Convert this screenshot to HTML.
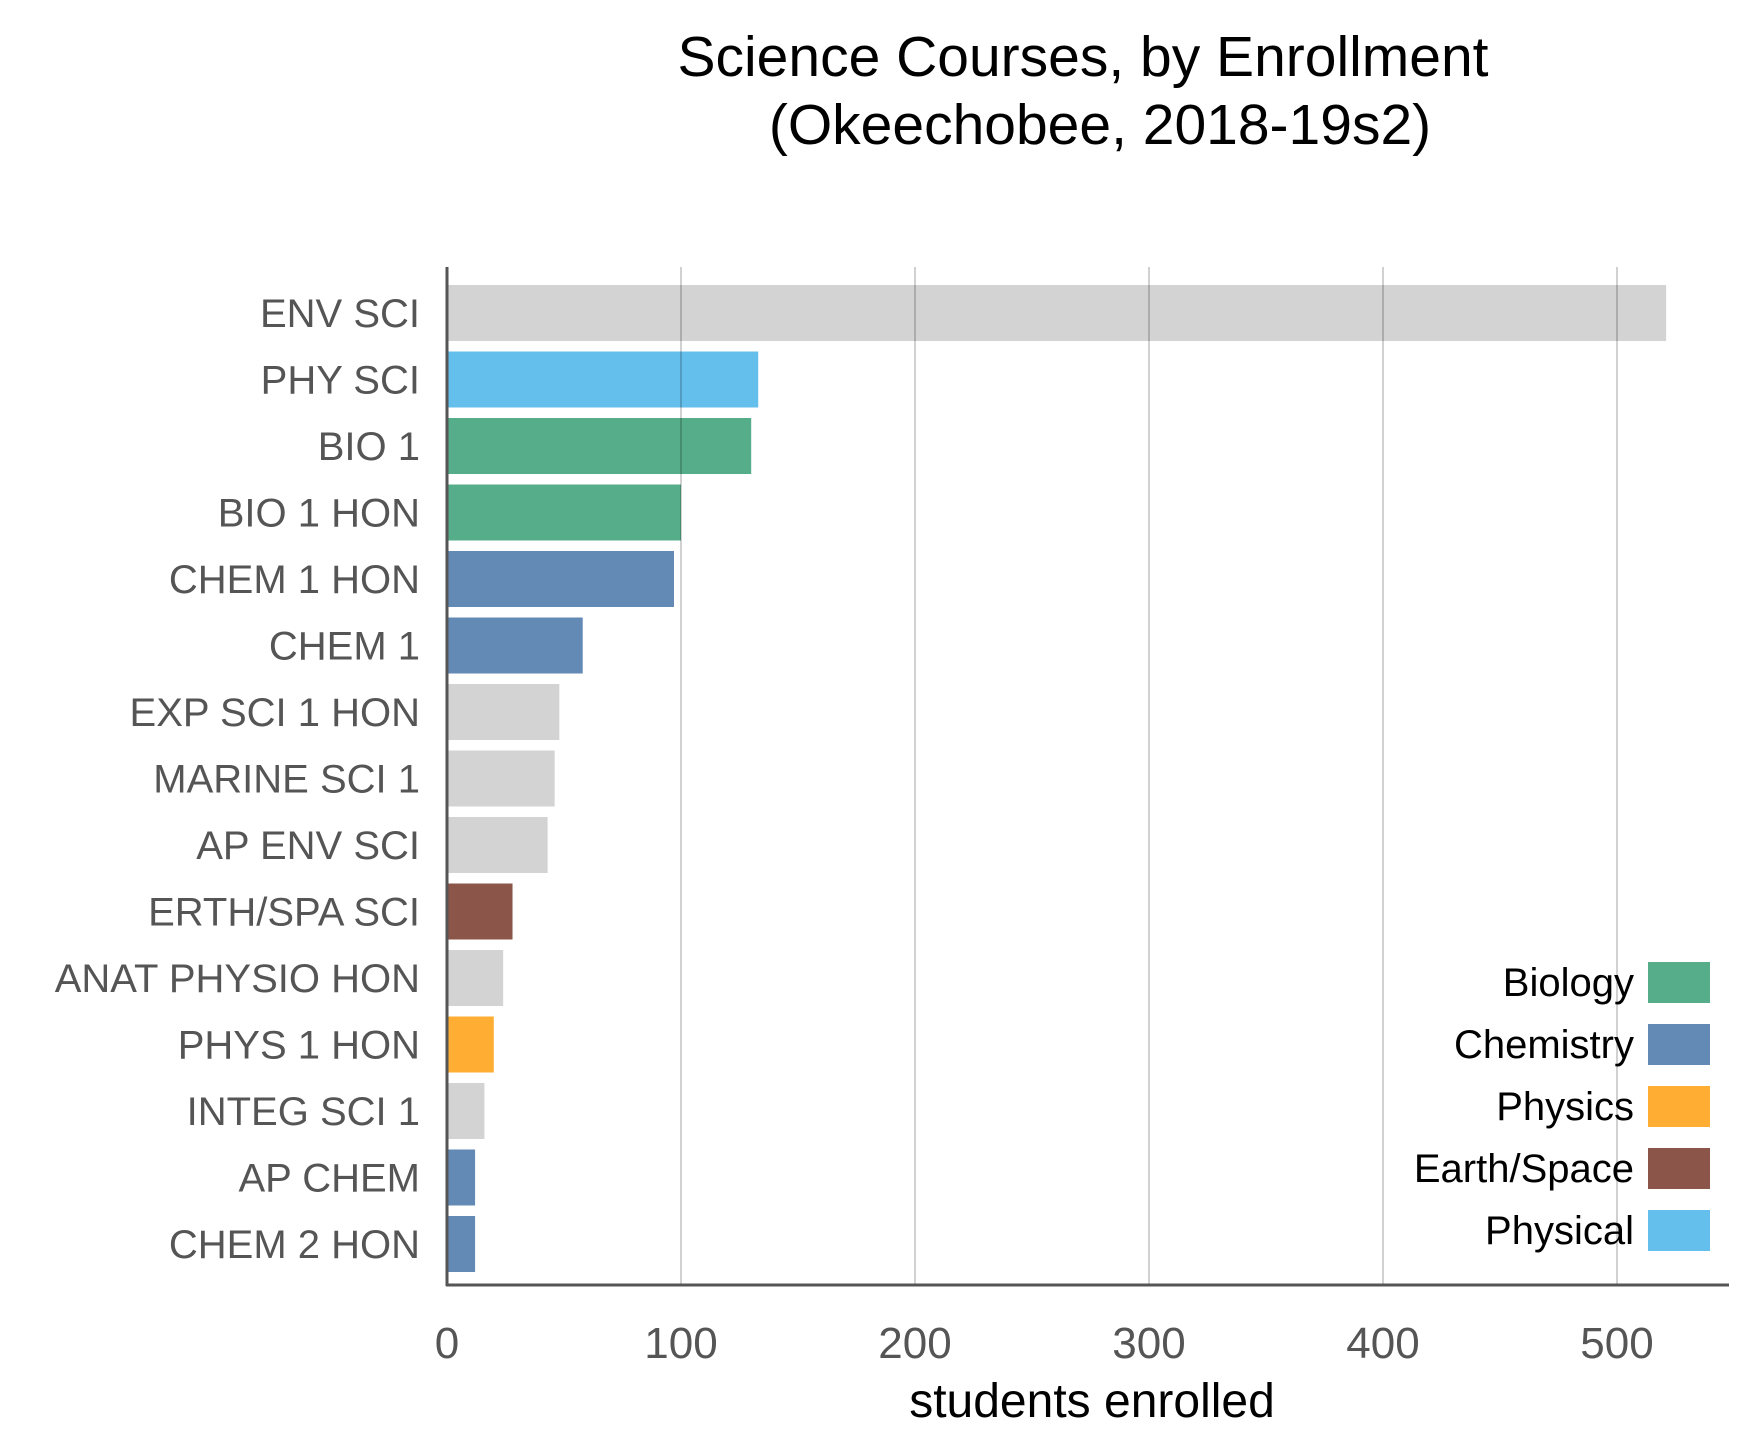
<!DOCTYPE html>
<html><head><meta charset="utf-8"><style>
html,body{margin:0;padding:0;background:#fff;}
svg{display:block;font-family:"Liberation Sans","DejaVu Sans",sans-serif;}
</style></head><body>
<svg id="chart" width="1760" height="1448" viewBox="0 0 1760 1448">
<text x="1083" y="76" text-anchor="middle" font-size="57" fill="#000">Science Courses, by Enrollment</text>
<text x="1100" y="144" text-anchor="middle" font-size="57" fill="#000">(Okeechobee, 2018-19s2)</text>
<g id="bars"></g><g id="grid"></g><g id="axes"></g><g id="legend"></g>
<text x="1092" y="1417" text-anchor="middle" font-size="48" fill="#000">students enrolled</text>
</svg>
<script>
const categories=["ENV SCI","PHY SCI","BIO 1","BIO 1 HON","CHEM 1 HON","CHEM 1","EXP SCI 1 HON","MARINE SCI 1","AP ENV SCI","ERTH/SPA SCI","ANAT PHYSIO HON","PHYS 1 HON","INTEG SCI 1","AP CHEM","CHEM 2 HON"];
const values=[521,133,130,100,97,58,48,46,43,28,24,20,16,12,12];
const groups=["other","physical","biology","biology","chemistry","chemistry","other","other","other","earth","other","physics","other","chemistry","chemistry"];
const ticks=[0,100,200,300,400,500];
const legendLabels=["Biology","Chemistry","Physics","Earth/Space","Physical"];
const legendKeys=["biology","chemistry","physics","earth","physical"];
const colors={other:"#d3d3d3",physical:"#64bfed",biology:"#56ad8a",chemistry:"#6389b5",physics:"#ffad33",earth:"#8b5549"};
const NS="http://www.w3.org/2000/svg";
const x0=447,pxPer=2.34,top0=285,step=66.5,bh=56,axTop=267,axBot=1285,axRight=1729;
const xs=v=>x0+v*pxPer;
function mk(t,a,p){const e=document.createElementNS(NS,t);for(const k in a)e.setAttribute(k,a[k]);p.appendChild(e);return e;}
const bars=document.getElementById('bars'),grid=document.getElementById('grid'),axes=document.getElementById('axes'),leg=document.getElementById('legend');
categories.forEach((c,i)=>{
  const y=top0+i*step;
  const r=mk('rect',{x:x0,y:y,width:xs(values[i])-x0,height:bh,fill:colors[groups[i]]},bars);
  
  
  const t=mk('text',{x:420,y:y+bh/2+14,'text-anchor':'end','font-size':40,fill:'#555'},axes);
  t.textContent=c;
  
  
});
ticks.forEach(v=>{
  if(v>0){const l=mk('line',{x1:xs(v),x2:xs(v),y1:axTop,y2:axBot,stroke:'rgba(0,0,0,0.3)','stroke-width':1.2},grid);
  
  }
  const t=mk('text',{x:xs(v),y:1358,'text-anchor':'middle','font-size':44,fill:'#555'},axes);
  t.textContent=v;
  
  
});
const ya=mk('line',{x1:x0,x2:x0,y1:axTop,y2:axBot+1,stroke:'#555','stroke-width':3},axes);


const xa=mk('line',{x1:x0-1,x2:axRight,y1:axBot,y2:axBot,stroke:'#555','stroke-width':3},axes);


legendLabels.forEach((lab,i)=>{
  const cy=982+i*62;
  const r=mk('rect',{x:1648,y:cy-20,width:62,height:41,fill:colors[legendKeys[i]]},leg);
  
  
  const t=mk('text',{x:1634,y:cy+14,'text-anchor':'end','font-size':40,fill:'#000'},leg);
  t.textContent=lab;
  
  
});
</script>
</body></html>
